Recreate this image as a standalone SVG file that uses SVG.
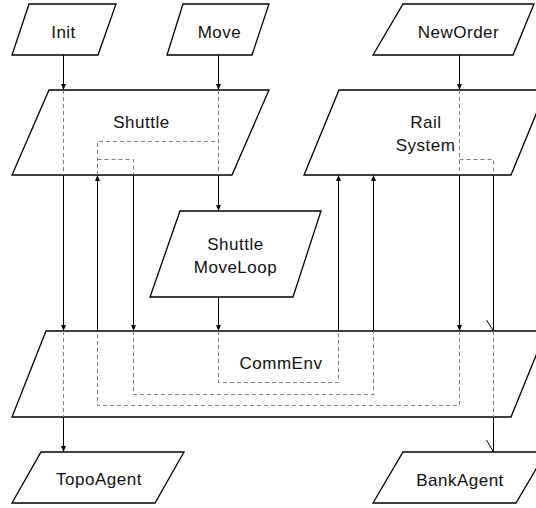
<svg xmlns="http://www.w3.org/2000/svg" width="536" height="508" viewBox="0 0 536 508">
  <style>
    .node { fill: #ffffff; stroke: #000000; stroke-width: 1.3; stroke-linejoin: miter; }
    .label { font-family: "Liberation Sans", Arial, sans-serif; font-size: 17px; letter-spacing: 0.5px; fill: #111111; text-anchor: middle; }
    .edge { fill: none; stroke: #000000; stroke-width: 1; }
    .hidden { fill: none; stroke: #808080; stroke-width: 1; stroke-dasharray: 4 3; }
  </style>
  <defs>
    <marker id="arrow" viewBox="0 0 6 5" refX="6" refY="2.5" markerWidth="6" markerHeight="5" markerUnits="userSpaceOnUse" orient="auto">
      <path d="M0,0 L6,2.5 L0,5 Z" fill="#000000"/>
    </marker>
  </defs>

  <rect width="536" height="508" fill="#ffffff"/>

  <g id="Init">
    <polygon class="node" points="29,4 116,4 98,55 12,55"/>
    <text class="label" x="63.5" y="38">Init</text>
  </g>
  <g id="Move">
    <polygon class="node" points="183,4 269,4 252,55 167,55"/>
    <text class="label" x="219.5" y="38">Move</text>
  </g>
  <g id="NewOrder">
    <polygon class="node" points="403,4 534,4 513,55 373,55"/>
    <text class="label" x="458.5" y="38">NewOrder</text>
  </g>
  <g id="Shuttle">
    <polygon class="node" points="49,90 269,90 232,175 12,175"/>
    <text class="label" x="141.5" y="127.5">Shuttle</text>
  </g>
  <g id="RailSystem">
    <polygon class="node" points="339,90 546,90 511,175 304,175"/>
    <text class="label" x="426" y="127.5">Rail</text>
    <text class="label" x="425.5" y="150.5">System</text>
  </g>
  <g id="ShuttleMoveLoop">
    <polygon class="node" points="180,211 321,211 293,297 150,297"/>
    <text class="label" x="235.5" y="249.5">Shuttle</text>
    <text class="label" x="235.5" y="272.5">MoveLoop</text>
  </g>
  <g id="CommEnv">
    <polygon class="node" points="46,331 546,331 511,417 12,417"/>
    <text class="label" x="281" y="368.5">CommEnv</text>
  </g>
  <g id="TopoAgent">
    <polygon class="node" points="41,452 184,452 155,503 12,503"/>
    <text class="label" x="99" y="484.5">TopoAgent</text>
  </g>
  <g id="BankAgent">
    <polygon class="node" points="403,452 546,452 516,503 373,503"/>
    <text class="label" x="460" y="485.5">BankAgent</text>
  </g>

  <g id="connectors">
    <!-- Init chain down to TopoAgent -->
    <line class="edge" x1="63.5" y1="55" x2="63.5" y2="90" marker-end="url(#arrow)"/>
    <line class="hidden" x1="63.5" y1="90" x2="63.5" y2="175"/>
    <line class="edge" x1="63.5" y1="175" x2="63.5" y2="331" marker-end="url(#arrow)"/>
    <line class="hidden" x1="63.5" y1="331" x2="63.5" y2="417"/>
    <line class="edge" x1="63.5" y1="417" x2="63.5" y2="452" marker-end="url(#arrow)"/>

    <!-- Move chain through ShuttleMoveLoop, back up to Rail System -->
    <line class="edge" x1="218.5" y1="55" x2="218.5" y2="90" marker-end="url(#arrow)"/>
    <line class="hidden" x1="218.5" y1="90" x2="218.5" y2="175"/>
    <line class="edge" x1="218.5" y1="175" x2="218.5" y2="211" marker-end="url(#arrow)"/>
    <line class="edge" x1="218.5" y1="297" x2="218.5" y2="331" marker-end="url(#arrow)"/>
    <polyline class="hidden" points="218.5,331 218.5,382.5 338.5,382.5 338.5,331"/>
    <line class="edge" x1="338.5" y1="331" x2="338.5" y2="175" marker-end="url(#arrow)"/>

    <!-- NewOrder chain through Rail System, back up to Shuttle -->
    <line class="edge" x1="459.5" y1="55" x2="459.5" y2="90" marker-end="url(#arrow)"/>
    <line class="hidden" x1="459.5" y1="90" x2="459.5" y2="175"/>
    <line class="edge" x1="459.5" y1="175" x2="459.5" y2="331" marker-end="url(#arrow)"/>
    <polyline class="hidden" points="459.5,331 459.5,405.5 97.5,405.5 97.5,331"/>
    <line class="edge" x1="97.5" y1="331" x2="97.5" y2="175" marker-end="url(#arrow)"/>
    <polyline class="hidden" points="97.5,175 97.5,141.5 218.5,141.5"/>

    <!-- Shuttle to Rail System via CommEnv -->
    <polyline class="hidden" points="97.5,159.5 133.5,159.5 133.5,175"/>
    <line class="edge" x1="133.5" y1="175" x2="133.5" y2="331" marker-end="url(#arrow)"/>
    <polyline class="hidden" points="133.5,331 133.5,394.5 373.5,394.5 373.5,331"/>
    <line class="edge" x1="373.5" y1="331" x2="373.5" y2="175" marker-end="url(#arrow)"/>

    <!-- Rail System to BankAgent -->
    <polyline class="hidden" points="459.5,159.5 493.5,159.5 493.5,175"/>
    <line class="edge" x1="493.5" y1="175" x2="493.5" y2="331"/>
    <line class="edge" x1="486.5" y1="320" x2="493.5" y2="331"/>
    <line class="hidden" x1="493.5" y1="331" x2="493.5" y2="417"/>
    <line class="edge" x1="493.5" y1="417" x2="493.5" y2="452"/>
    <line class="edge" x1="486.5" y1="440" x2="493.5" y2="452"/>
  </g>
</svg>
